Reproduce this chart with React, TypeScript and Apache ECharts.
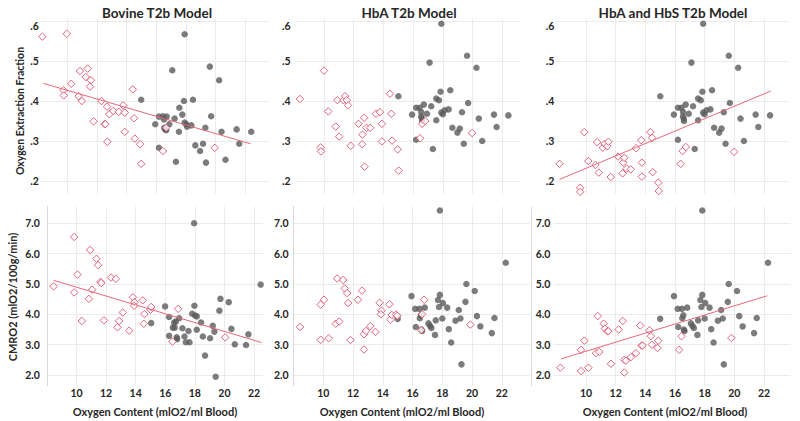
import React, { useEffect, useRef } from "react";
import * as echarts from "echarts";

const panelTitles = ["Bovine T2b Model", "HbA T2b Model", "HbA and HbS T2b Model"];
const yTitleTop = "Oxygen Extraction Fraction";
const yTitleBottom = "CMRO2 (mlO2/100g/min)";
const xTitle = "Oxygen Content (mlO2/ml Blood)";
const xTicks = [10, 12, 14, 16, 18, 20, 22];
const oefTicks = [0.2, 0.3, 0.4, 0.5, 0.6];
const cmroTicks = [2, 3, 4, 5, 6, 7];

// Patients (red diamonds) – OEF
const patOefBovine = [
  [8.3, 0.561], [9.95, 0.568], [9.73, 0.427], [9.75, 0.414], [10.25, 0.443], [10.75, 0.412],
  [10.84, 0.475], [10.97, 0.4], [11.24, 0.46], [11.36, 0.481], [11.58, 0.452], [11.52, 0.436],
  [11.76, 0.349], [12.29, 0.4], [12.51, 0.342], [12.56, 0.342], [12.67, 0.386], [12.69, 0.298],
  [12.83, 0.367], [13.1, 0.375], [13.46, 0.373], [13.76, 0.389], [13.87, 0.371], [13.87, 0.323],
  [14.41, 0.429], [14.5, 0.357], [14.55, 0.306], [14.91, 0.292], [14.98, 0.243], [16.45, 0.275],
  [16.67, 0.333], [19.95, 0.283],
];
const patOefHbA = [
  [8.38, 0.405], [9.77, 0.284], [9.8, 0.274], [10.0, 0.476], [10.29, 0.374], [10.79, 0.336],
  [10.9, 0.402], [11.02, 0.311], [11.31, 0.402], [11.42, 0.412], [11.53, 0.402], [11.62, 0.389],
  [11.8, 0.288], [12.32, 0.343], [12.59, 0.316], [12.57, 0.292], [12.73, 0.236], [12.71, 0.358],
  [12.86, 0.333], [13.11, 0.333], [13.5, 0.368], [13.77, 0.372], [13.9, 0.343], [13.9, 0.299],
  [14.44, 0.418], [14.53, 0.368], [14.58, 0.301], [14.96, 0.279], [15.03, 0.226], [16.47, 0.307],
  [16.61, 0.343], [16.81, 0.35], [19.97, 0.32],
];
const patOefHbS = [
  [8.22, 0.243], [9.61, 0.183], [9.61, 0.173], [9.89, 0.322], [10.16, 0.25], [10.64, 0.24],
  [10.75, 0.297], [10.87, 0.221], [11.14, 0.283], [11.26, 0.293], [11.44, 0.287], [11.51, 0.298],
  [11.67, 0.21], [12.17, 0.261], [12.47, 0.219], [12.51, 0.246], [12.58, 0.258], [12.58, 0.165],
  [12.74, 0.231], [13.02, 0.229], [13.38, 0.282], [13.73, 0.302], [13.77, 0.246], [13.77, 0.211],
  [14.34, 0.322], [14.46, 0.308], [14.5, 0.222], [14.87, 0.196], [14.91, 0.175], [16.38, 0.243],
  [16.51, 0.275], [16.74, 0.285], [19.99, 0.273],
];

// Controls (gray dots) – OEF
const ctlOefBovine = [
  [14.98, 0.403], [15.93, 0.342], [16.18, 0.361], [16.18, 0.283], [16.45, 0.362], [16.52, 0.354],
  [16.54, 0.333], [16.61, 0.329], [16.7, 0.361], [16.67, 0.327], [16.88, 0.342], [17.08, 0.477],
  [17.24, 0.356], [17.33, 0.248], [17.53, 0.323], [17.56, 0.383], [17.76, 0.366], [17.87, 0.4],
  [17.92, 0.567], [17.92, 0.346], [18.03, 0.342], [18.08, 0.336], [18.37, 0.339], [18.48, 0.403],
  [18.64, 0.289], [18.96, 0.275], [19.16, 0.293], [19.32, 0.333], [19.36, 0.246], [19.62, 0.486],
  [19.71, 0.362], [20.25, 0.452], [20.41, 0.323], [20.68, 0.253], [21.43, 0.329], [21.61, 0.293],
  [22.42, 0.323],
];
const ctlOefHbA = [
  [15.01, 0.412], [15.93, 0.366], [16.2, 0.383], [16.2, 0.303], [16.43, 0.383], [16.54, 0.373],
  [16.54, 0.362], [16.59, 0.356], [16.61, 0.35], [16.72, 0.391], [16.93, 0.368], [17.11, 0.496],
  [17.22, 0.387], [17.33, 0.28], [17.56, 0.352], [17.56, 0.406], [17.74, 0.402], [17.85, 0.423],
  [17.9, 0.593], [17.9, 0.371], [18.0, 0.367], [18.12, 0.377], [18.39, 0.379], [18.5, 0.427],
  [18.64, 0.333], [18.98, 0.321], [19.14, 0.331], [19.29, 0.372], [19.41, 0.293], [19.7, 0.395],
  [19.63, 0.513], [20.26, 0.483], [20.42, 0.356], [20.65, 0.3], [21.44, 0.366], [21.62, 0.335],
  [22.41, 0.364],
];

// Patients – CMRO2
const patCmroBovine = [
  [8.45, 4.92], [9.84, 6.55], [9.84, 4.72], [10.07, 5.31], [10.36, 3.78], [10.92, 6.12],
  [10.83, 4.51], [11.06, 4.81], [11.35, 5.83], [11.46, 5.62], [11.62, 5.07], [11.67, 5.03],
  [11.85, 3.8], [12.34, 5.21], [12.66, 5.17], [12.77, 3.57], [12.88, 3.78], [13.13, 4.06],
  [13.56, 3.46], [13.81, 4.56], [13.92, 4.4], [13.9, 4.28], [14.48, 4.46], [14.59, 4.01],
  [14.55, 3.69], [15.0, 4.15], [15.05, 4.24], [16.49, 3.1], [16.87, 4.18], [20.05, 3.24],
];
const patCmroHbA = [
  [8.44, 3.58], [9.82, 4.32], [9.82, 3.16], [10.04, 4.48], [10.36, 3.21], [10.84, 3.69],
  [10.93, 5.18], [11.07, 3.76], [11.33, 5.13], [11.44, 4.85], [11.6, 4.7], [11.67, 4.37],
  [11.82, 3.15], [12.33, 4.48], [12.6, 4.78], [12.73, 3.34], [12.73, 2.84], [12.87, 3.45],
  [13.16, 3.61], [13.51, 3.42], [13.78, 4.38], [13.91, 4.12], [13.87, 4.0], [14.44, 4.33],
  [14.51, 3.82], [14.6, 3.98], [14.89, 3.99], [14.98, 3.95], [16.58, 3.48], [16.64, 4.0],
  [16.78, 4.48], [19.89, 3.66],
];
const patCmroHbS = [
  [8.27, 2.24], [9.66, 2.83], [9.66, 2.13], [9.89, 3.13], [10.16, 2.24], [10.67, 2.72],
  [10.79, 3.94], [10.9, 2.76], [11.19, 3.69], [11.28, 3.53], [11.46, 3.44], [11.5, 3.44],
  [11.68, 2.37], [12.2, 3.5], [12.47, 3.78], [12.58, 2.5], [12.58, 2.08], [12.69, 2.47],
  [13.03, 2.59], [13.36, 2.72], [13.66, 3.63], [13.75, 2.97], [13.81, 2.97], [14.28, 3.47],
  [14.37, 3.28], [14.44, 3.0], [14.82, 2.89], [14.87, 3.13], [16.28, 2.83], [16.44, 3.28],
  [19.8, 3.22],
];

// Controls – CMRO2
const ctlCmroBovine = [
  [15.05, 3.71], [15.99, 4.26], [16.26, 3.91], [16.26, 3.29], [16.51, 3.56], [16.6, 3.73],
  [16.64, 3.56], [16.71, 3.76], [16.78, 3.24], [16.8, 3.18], [16.94, 3.87], [17.16, 3.54],
  [17.3, 3.27], [17.39, 3.08], [17.57, 3.45], [17.64, 3.08], [17.82, 4.02], [17.95, 7.0],
  [17.97, 4.28], [18.02, 3.96], [18.13, 3.93], [18.13, 3.49], [18.42, 3.73], [18.54, 3.27],
  [18.69, 2.64], [19.03, 3.21], [19.21, 3.62], [19.32, 3.43], [19.41, 1.94], [19.66, 4.12],
  [19.73, 4.51], [20.29, 4.4], [20.47, 3.52], [20.7, 3.01], [21.46, 2.99], [21.62, 3.34],
  [22.45, 4.98],
];
const ctlCmroHbA = [
  [15.0, 3.85], [15.93, 4.6], [16.18, 4.18], [16.22, 3.58], [16.47, 4.18], [16.49, 3.87],
  [16.56, 3.97], [16.6, 3.5], [16.64, 3.45], [16.82, 4.22], [17.07, 3.7], [17.18, 3.62],
  [17.27, 3.55], [17.51, 3.32], [17.56, 3.8], [17.71, 4.47], [17.78, 4.24], [17.84, 4.64],
  [17.84, 7.42], [18.0, 3.86], [18.04, 4.37], [18.33, 4.22], [18.44, 3.51], [18.6, 3.07],
  [18.89, 3.79], [19.11, 4.14], [19.22, 3.86], [19.29, 2.35], [19.56, 4.41], [19.62, 5.0],
  [20.18, 4.77], [20.33, 3.94], [20.56, 3.6], [21.33, 3.38], [21.51, 3.88], [22.27, 5.7],
];

// Fitted trend lines (end points)
const fitOefBovine = [[8.37, 0.444], [22.38, 0.293]];
const fitOefHbS = [[8.22, 0.204], [22.46, 0.425]];
const fitCmroBovine = [[8.45, 5.12], [22.5, 3.07]];
const fitCmroHbS = [[8.32, 2.53], [22.22, 4.61]];

const RED = "#d8405e";
const GRAY = "#5b5b5b";
const LINE = "#e8687a";
const TEXT = "#262626";
const GRID = "#ebebeb";
const FONT = "Lato, 'Open Sans', sans-serif";

export default function App() {
  const ref = useRef<HTMLDivElement>(null);
  useEffect(() => {
    if (!ref.current) return;
    const chart = echarts.init(ref.current, null, { renderer: "svg" });

    const grids = [
      { left: 40.9, top: 19, width: 227.8, height: 175 },
      { left: 296.5, top: 19, width: 223.6, height: 175 },
      { left: 556.3, top: 19, width: 231.4, height: 175 },
      { left: 46.9, top: 206.6, width: 216, height: 179 },
      { left: 293.6, top: 206.6, width: 236.4, height: 179 },
      { left: 553.4, top: 206.6, width: 237.3, height: 179 },
    ];
    const xRanges = [
      [8.2, 23.6], [8.15, 23.2], [8.0, 23.6],
      [8.0, 22.6], [8.0, 23.9], [7.8, 23.8],
    ];
    const yLabelMargin = [2, 6, 2, 7, 5, 3];

    const labelStyle = { color: TEXT, fontFamily: FONT, fontWeight: "bold" as const, fontSize: 10.5 };

    const xAxis = grids.map((_, i) => ({
      type: "value",
      gridIndex: i,
      min: xRanges[i][0],
      max: xRanges[i][1],
      axisLine: { show: false },
      axisTick: { show: false, customValues: xTicks },
      axisLabel: {
        show: i >= 3,
        customValues: xTicks,
        margin: 2,
        ...labelStyle,
        formatter: (v: number) => String(Math.round(v)),
      },
      splitLine: { show: true, lineStyle: { color: GRID, width: 1 } },
    }));

    const yAxis = grids.map((_, i) => {
      const top = i < 3;
      return {
        type: "value",
        gridIndex: i,
        min: top ? 0.1675 : 1.65,
        max: top ? 0.605 : 7.55,
        axisLine: { show: !top && i !== 5, lineStyle: { color: "#d9d9d9", width: 1 } },
        axisTick: { show: false, customValues: top ? oefTicks : cmroTicks },
        axisLabel: {
          customValues: top ? oefTicks : cmroTicks,
          margin: yLabelMargin[i],
          ...labelStyle,
          formatter: (v: number) => {
            if (top) {
              const s = v.toFixed(1).replace(/^0/, "");
              return Math.abs(v - 0.6) < 1e-6 ? "{t|" + s + "}" : s;
            }
            return v.toFixed(1);
          },
          rich: {
            t: { ...labelStyle, padding: [10, 0, 0, 0] },
          },
        },
        splitLine: { show: true, lineStyle: { color: GRID, width: 1 } },
      };
    });

    const red = (i: number, data: number[][]) => ({
      type: "scatter",
      xAxisIndex: i,
      yAxisIndex: i,
      data,
      symbol: "diamond",
      symbolSize: 7.5,
      itemStyle: { color: "#ffffff", borderColor: RED, borderWidth: 1 },
      z: 3,
      clip: true,
    });
    const gray = (i: number, data: number[][]) => ({
      type: "scatter",
      xAxisIndex: i,
      yAxisIndex: i,
      data,
      symbol: "circle",
      symbolSize: 6.5,
      itemStyle: { color: GRAY },
      z: 2,
      clip: true,
    });
    const fit = (i: number, data: number[][]) => ({
      type: "line",
      xAxisIndex: i,
      yAxisIndex: i,
      data,
      symbol: "none",
      lineStyle: { color: LINE, width: 1 },
      z: 4,
      silent: true,
    });

    const series = [
      gray(0, ctlOefBovine), red(0, patOefBovine), fit(0, fitOefBovine),
      gray(1, ctlOefHbA), red(1, patOefHbA),
      gray(2, ctlOefHbA), red(2, patOefHbS), fit(2, fitOefHbS),
      gray(3, ctlCmroBovine), red(3, patCmroBovine), fit(3, fitCmroBovine),
      gray(4, ctlCmroHbA), red(4, patCmroHbA),
      gray(5, ctlCmroHbA), red(5, patCmroHbS), fit(5, fitCmroHbS),
    ];

    const titleCenters = [157, 409, 673];
    const xTitleCenters = [155, 402, 665];
    const graphic: any[] = [];
    panelTitles.forEach((t, i) => {
      graphic.push({
        type: "text",
        x: titleCenters[i],
        y: 12.5,
        style: {
          text: t,
          fill: TEXT,
          font: "bold 13.5px " + FONT,
          textAlign: "center",
          textVerticalAlign: "middle",
        },
      });
      graphic.push({
        type: "text",
        x: xTitleCenters[i],
        y: 411,
        style: {
          text: xTitle,
          fill: TEXT,
          font: "bold 11px " + FONT,
          textAlign: "center",
          textVerticalAlign: "middle",
        },
      });
    });
    graphic.push({
      type: "text",
      x: 20,
      y: 111,
      rotation: Math.PI / 2,
      style: {
        text: yTitleTop,
        fill: TEXT,
        font: "bold 10.5px " + FONT,
        textAlign: "center",
        textVerticalAlign: "middle",
      },
    });
    graphic.push({
      type: "text",
      x: 12,
      y: 297,
      rotation: Math.PI / 2,
      style: {
        text: yTitleBottom,
        fill: TEXT,
        font: "bold 11px " + FONT,
        textAlign: "center",
        textVerticalAlign: "middle",
      },
    });
    graphic.push({
      type: "line",
      shape: { x1: 531.5, y1: 207, x2: 531.5, y2: 386 },
      style: { stroke: "#d9d9d9", lineWidth: 1 },
    });

    chart.setOption({
      animation: false,
      backgroundColor: "#ffffff",
      grid: grids,
      xAxis,
      yAxis,
      series,
      graphic,
    });
    return () => chart.dispose();
  }, []);
  return <div ref={ref} style={{ width: 800, height: 421, position: "absolute", left: 0, top: 0 }} />;
}
